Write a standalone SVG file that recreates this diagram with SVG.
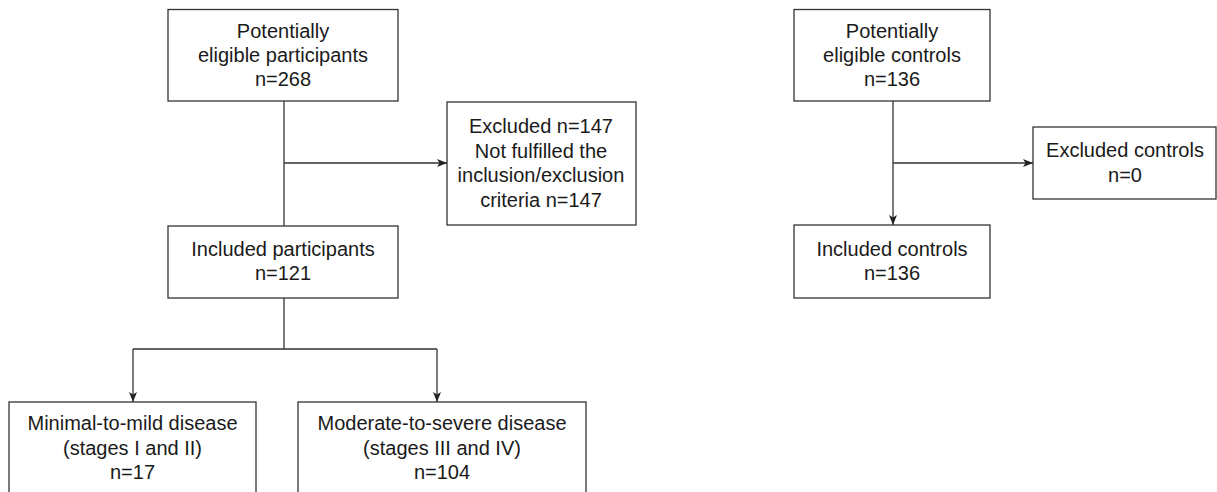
<svg xmlns="http://www.w3.org/2000/svg" width="1217" height="492" viewBox="0 0 1217 492">
<style>
.box{fill:#fff;stroke:#333;stroke-width:1.3}
.ln{fill:none;stroke:#333;stroke-width:1.3}
.arr{marker-end:url(#ah)}
text{font-family:"Liberation Sans",Arial,sans-serif;font-size:20px;fill:#1a1a1a;text-anchor:middle}
</style>
<defs>
<marker id="ah" viewBox="0 0 10 8" refX="10" refY="4" markerWidth="10" markerHeight="8" markerUnits="userSpaceOnUse" orient="auto">
<path d="M0,0 L10,4 L0,8 L2.5,4 z" fill="#222"/>
</marker>
</defs>
<rect width="1217" height="492" fill="#fff"/>
<g id="connectors">
<line class="ln" x1="284" y1="101" x2="284" y2="226"/>
<line class="ln arr" x1="284" y1="163" x2="447" y2="163"/>
<line class="ln" x1="284" y1="298" x2="284" y2="349"/>
<line class="ln" x1="133" y1="349" x2="437" y2="349"/>
<line class="ln arr" x1="133" y1="349" x2="133" y2="402"/>
<line class="ln arr" x1="437" y1="349" x2="437" y2="402"/>
<line class="ln arr" x1="893" y1="101" x2="893" y2="225"/>
<line class="ln arr" x1="893" y1="163" x2="1033" y2="163"/>
</g>
<g id="potential-participants">
<rect class="box" x="168" y="9.5" width="230" height="91.5"/>
<text x="283" y="38">Potentially</text>
<text x="283" y="62">eligible participants</text>
<text x="283" y="86">n=268</text>
</g>
<g id="excluded-participants">
<rect class="box" x="447" y="102" width="189" height="123"/>
<text x="541" y="133">Excluded n=147</text>
<text x="541" y="157.5">Not fulfilled the</text>
<text x="541" y="182">inclusion/exclusion</text>
<text x="541" y="206.5">criteria n=147</text>
</g>
<g id="included-participants">
<rect class="box" x="168" y="226" width="230" height="72"/>
<text x="283" y="256">Included participants</text>
<text x="283" y="280">n=121</text>
</g>
<g id="minimal-mild">
<rect class="box" x="9" y="402" width="247" height="110"/>
<text x="132.5" y="430">Minimal-to-mild disease</text>
<text x="132.5" y="455">(stages I and II)</text>
<text x="132.5" y="479">n=17</text>
</g>
<g id="moderate-severe">
<rect class="box" x="298" y="402" width="288" height="110"/>
<text x="442" y="430">Moderate-to-severe disease</text>
<text x="442" y="455">(stages III and IV)</text>
<text x="442" y="479">n=104</text>
</g>
<g id="potential-controls">
<rect class="box" x="794" y="9.5" width="196" height="91.5"/>
<text x="892" y="38">Potentially</text>
<text x="892" y="62">eligible controls</text>
<text x="892" y="86">n=136</text>
</g>
<g id="excluded-controls">
<rect class="box" x="1033" y="127" width="183" height="72"/>
<text x="1125" y="157">Excluded controls</text>
<text x="1125" y="181.5">n=0</text>
</g>
<g id="included-controls">
<rect class="box" x="794" y="225" width="196" height="73"/>
<text x="892" y="256">Included controls</text>
<text x="892" y="280">n=136</text>
</g>
</svg>
